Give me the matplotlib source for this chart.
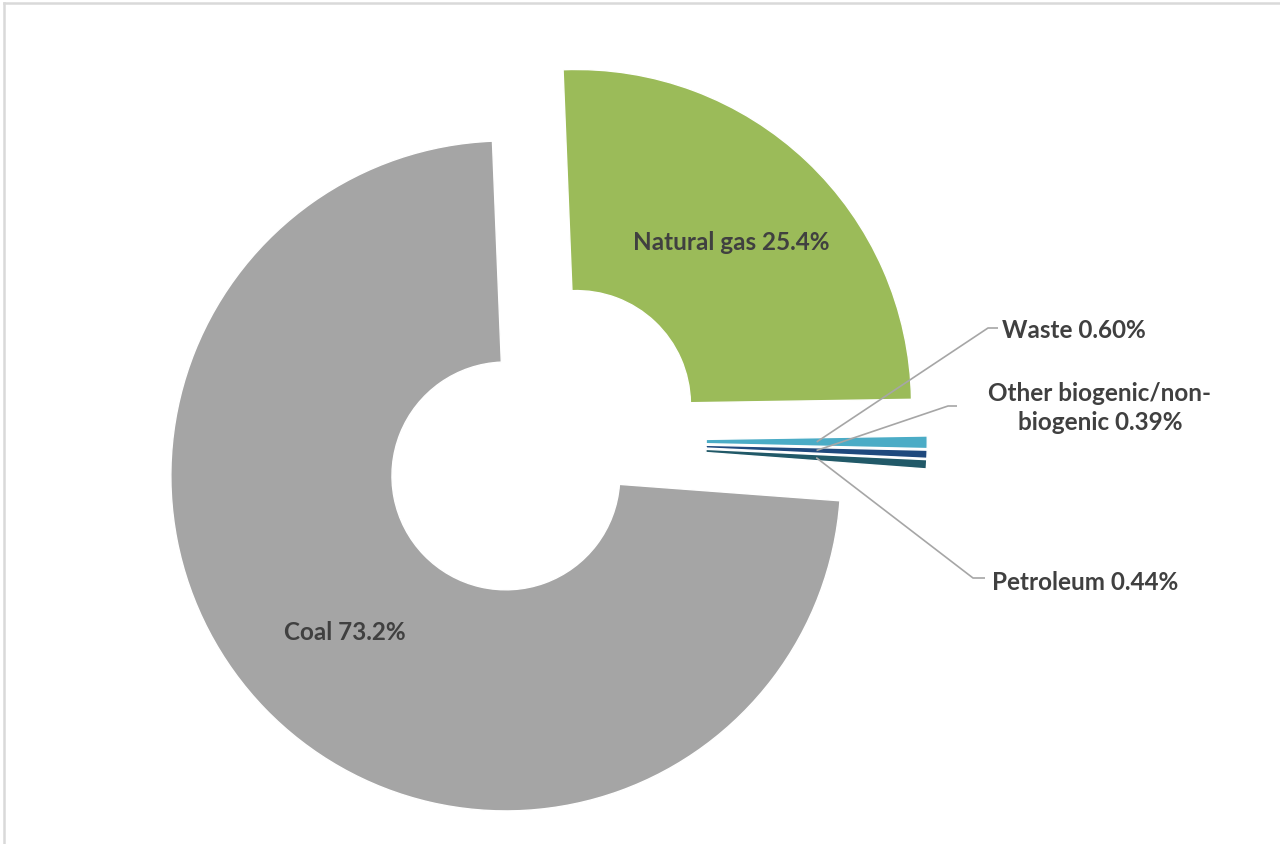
import matplotlib
matplotlib.use("Agg")
import matplotlib.pyplot as plt
import numpy as np

# ---- data ----
categories = ["Natural gas", "Waste", "Other biogenic/non-\nbiogenic", "Petroleum", "Coal"]
shares = [25.4, 0.60, 0.39, 0.44, 73.2]
pct_labels = ["25.4%", "0.60%", "0.39%", "0.44%", "73.2%"]
colors = ["#9BBB59", "#4BACC6", "#1F497D", "#215968", "#A5A5A5"]

# ---- layout (pixels) ----
W, H = 1280, 845
CX, CY, RPX = 542, 442, 335   # pie centre and outer radius in pixels

def px(x, y):
    return ((x - CX) / RPX, (CY - y) / RPX)

plt.rcParams['font.family'] = ['Lato', 'DejaVu Sans']
TXT = "#404040"
FS = 17.5

fig = plt.figure(figsize=(W / 100, H / 100), dpi=100)
ax = fig.add_axes([0, 0, 1, 1])

wedges, _ = ax.pie(shares, colors=colors, startangle=92.3, counterclock=False,
                   radius=1.0, explode=[0.15] * len(shares),
                   wedgeprops=dict(width=0.66, edgecolor="white", linewidth=1.0))

ax.set_xlim(-CX / RPX, (W - CX) / RPX)
ax.set_ylim(-(H - CY) / RPX, CY / RPX)
ax.set_aspect('auto')
ax.axis('off')

def mid_point(w, frac=0.67):
    ang = np.deg2rad((w.theta1 + w.theta2) / 2)
    r = w.r - w.width / 2 if w.width else w.r * frac
    cx, cy = w.center
    return cx + r * np.cos(ang), cy + r * np.sin(ang)

# inside labels
for i in (0, 4):
    x, y = mid_point(wedges[i])
    ax.text(x, y, f"{categories[i]} {pct_labels[i]}", ha="center", va="center",
            fontsize=FS, fontweight="bold", color=TXT)

# outside labels with leader lines
outside = {
    1: dict(elbow=(988, 329), end=(998, 329), text=(1074, 330)),
    2: dict(elbow=(948, 407), end=(957, 407), text=(1100, 408)),
    3: dict(elbow=(973, 579), end=(985, 579), text=(1085, 582)),
}
for i, o in outside.items():
    sx, sy = mid_point(wedges[i])
    ex, ey = px(*o["elbow"])
    fx, fy = px(*o["end"])
    ax.plot([sx, ex, fx], [sy, ey, fy], color="#A6A6A6", lw=1.2, solid_capstyle="butt", zorder=3)
    tx, ty = px(*o["text"])
    ax.text(tx, ty, f"{categories[i]} {pct_labels[i]}", ha="center", va="center",
            fontsize=FS, fontweight="bold", color=TXT, linespacing=1.35,
            multialignment="center")

# chart border
fig.add_artist(plt.Line2D([4 / W, 4 / W], [0, 1 - 4 / H], transform=fig.transFigure,
                          color="#D9D9D9", lw=1.8))
fig.add_artist(plt.Line2D([4 / W, 1], [1 - 4 / H, 1 - 4 / H], transform=fig.transFigure,
                          color="#D9D9D9", lw=1.8))

fig.savefig("out.png", dpi=100, facecolor="white")
